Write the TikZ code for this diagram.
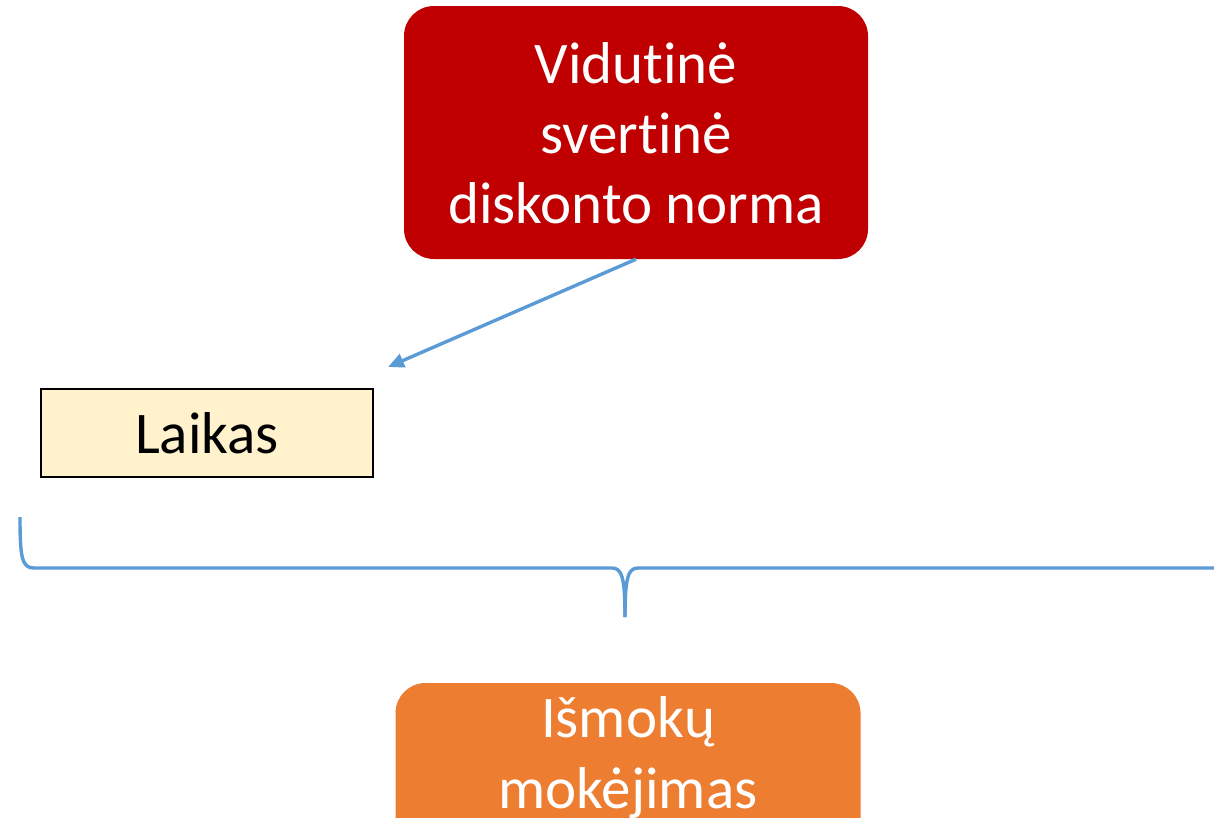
\documentclass[tikz,border=0pt]{standalone}
\usepackage{fontspec}
\newfontfamily\carlitofont[Ligatures=NoCommon,RawFeature={-liga;-clig;-dlig}]{Carlito}
\usetikzlibrary{arrows.meta}
\definecolor{cred}{HTML}{C00000}
\definecolor{corange}{HTML}{ED7D31}
\definecolor{cyellow}{HTML}{FFF2CC}
\definecolor{cblue}{HTML}{5B9BD5}
\tikzset{
  rbox/.style={rounded corners=30pt, inner sep=0pt},
  txt/.style={anchor=base, inner sep=0pt, font=\carlitofont\fontsize{59}{70}\selectfont},
  wtxt/.style={txt, text=white},
  conn/.style={draw=cblue, line width=3.4pt},
}
\begin{document}
\begin{tikzpicture}[x=1pt,y=-1pt]
\useasboundingbox (0,0) rectangle (1214,817);
\clip (0,0) rectangle (1214,817);
% red box
\node[rbox, fill=cred, minimum width=464pt, minimum height=253pt] (red) at (636,132.5) {};
\node[wtxt] (r1) at (636,83) {Vidut\kern0pt inė};
\node[wtxt] (r2) at (636,153) {svert\kern0pt inė};
\node[wtxt] (r3) at (636,223) {diskonto norma};
% Laikas
\node[draw=black, line width=1.6pt, fill=cyellow, minimum width=332pt, minimum height=88pt, inner sep=0pt] (laikas) at (207,433) {};
\node[txt] (lt) at (207,453) {Laikas};
% arrow
\coordinate (tip) at (388,367);
\draw[conn, -{Triangle[length=16pt,width=14pt]}] (red.south) -- (tip);
% brace
\coordinate (bl) at (20,517);
\coordinate (bm) at (625,617);
\coordinate (br) at (1216,568);
\draw[conn] (bl) .. controls (20,558) and (22,568) .. (34,568) -- (612,568) .. controls (622,568) and (625,578) .. (bm);
\draw[conn] (bm) .. controls (625,578) and (628,568) .. (638,568) -- (br);
% orange box
\node[rbox, fill=corange, minimum width=465pt, minimum height=200pt] (orange) at (628,783) {};
\node[wtxt] (o1) at (628,737) {Išmokų};
\node[wtxt] (o2) at (628,808) {mokėjimas};
\end{tikzpicture}
\end{document}
